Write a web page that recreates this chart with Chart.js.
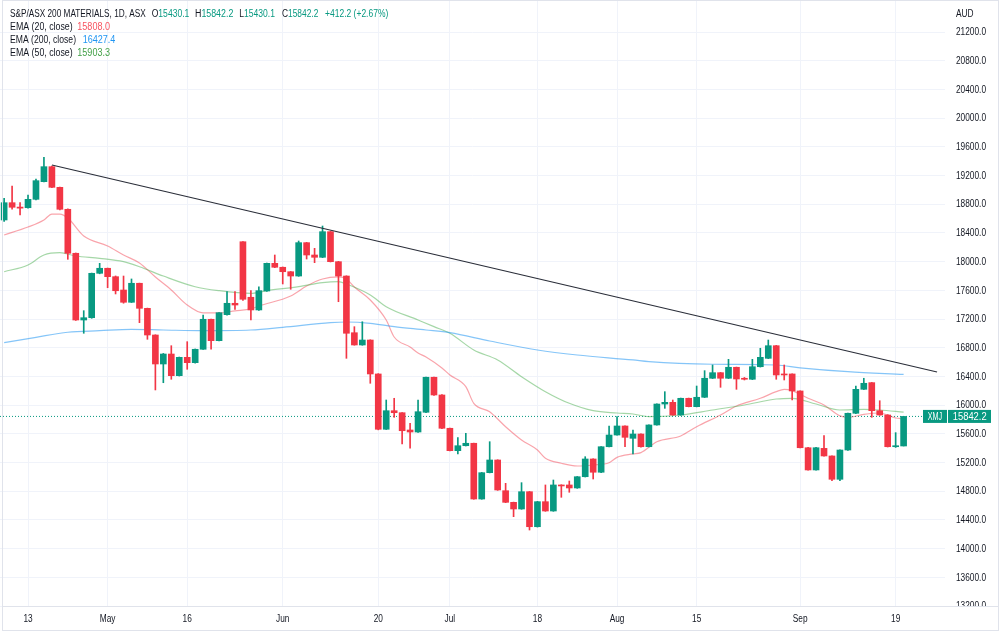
<!DOCTYPE html>
<html><head><meta charset="utf-8">
<script src="https://cdn.jsdelivr.net/npm/chart.js@4/dist/chart.umd.min.js"></script>
<style>html,body{margin:0;padding:0;background:#fff;}canvas{display:block;}</style>
</head><body>
<canvas id="c" width="1000" height="634"></canvas>
<script>
// trading-day index (0 = 13 Apr 2022, ASX trading days)
const dayIndex = [];
for (let d = -3; d <= 110; d++) dayIndex.push(d);

const opens = [18580,18821,18760,18751,18868,19114,19323,19035,18729,18116,17186,17218,17837,17907,17790,17604,17433,17698,17349,16977,16573,16712,16410,16666,16591,16778,17196,16898,17260,17419,18277,17503,17326,17590,17976,17921,17859,17799,18264,18092,18060,18417,17999,17799,17009,16838,16907,16434,15663,15922,15894,15653,15625,15900,16388,16141,15677,15365,15434,15468,14691,15058,15235,14807,14645,14552,14793,14305,14654,14524,14887,14887,14845,15002,15249,15064,15420,15583,15709,15537,15597,15420,15723,16015,16039,15862,16095,15978,16109,16374,16452,16374,16527,16374,16360,16535,16652,16828,16434,16434,16197,15406,15096,15397,15291,14966,15374,15886,16220,16313,15922,15862,15420,15430.1];
const highs = [18882,19054,18821,18928,19151,19454,19330,19040,18735,18120,17316,17840,17976,17910,17800,17799,17758,17700,17352,16980,16720,16828,16670,16884,16782,17256,17200,17290,17581,17581,18280,17595,17650,17980,18092,17925,17862,18287,18268,18185,18496,18420,18003,17802,17093,17162,16910,16438,16071,16095,15897,15747,16071,16390,16392,16145,15680,15546,15607,15470,15062,15490,15238,14910,14648,14919,14796,14658,14887,14956,14890,14942,15005,15281,15252,15423,15709,15839,15712,15653,15600,15726,16018,16187,16071,16098,16098,16266,16480,16559,16455,16638,16530,16385,16638,16792,16907,16832,16559,16437,16200,15410,15410,15574,15294,15378,15890,16266,16374,16316,16061,15866,15616,15842.2];
const lows = [18560,18729,18650,18745,18860,19110,19030,18720,18032,17180,17001,17210,17830,17636,17549,17420,17430,17149,16917,16211,16312,16360,16405,16499,16585,16775,16778,16895,17255,17335,17460,17186,17320,17585,17915,17688,17614,17795,18036,17985,18055,17995,17441,16652,16835,16834,16304,15655,15660,15830,15458,15398,15620,15895,16135,15670,15360,15319,15430,14688,14688,15055,14812,14640,14445,14548,14259,14300,14520,14520,14715,14785,14840,14998,14970,15060,15416,15580,15420,15319,15415,15416,15720,15955,15858,15858,15975,15975,16105,16370,16248,16370,16220,16350,16355,16530,16648,16360,16350,16071,15402,15092,15092,15288,14947,14947,15370,15882,16216,15830,15858,15416,15410,15430.1];
const closes = [18821,18757,18745,18868,19128,19323,19035,18729,18116,17186,17218,17837,17907,17790,17594,17433,17698,17349,16977,16573,16712,16410,16666,16591,16778,17196,16898,17288,17419,17395,17475,17326,17595,17976,17921,17859,17799,18264,18092,18060,18417,17999,17799,17001,16838,16907,16434,15663,15922,15894,15643,15625,15908,16388,16141,15677,15365,15434,15468,14691,15058,15235,14817,14645,14552,14793,14305,14654,14524,14887,14873,14845,15002,15249,15064,15420,15583,15709,15551,15597,15420,15723,16015,16039,15862,16095,15978,16109,16374,16452,16374,16527,16364,16360,16535,16666,16828,16420,16420,16197,15406,15096,15406,15291,14966,15374,15886,16220,16304,15922,15862,15420,15430,15842.2];

const tickDays = [0,10,20,32,44,53,64,74,84,97,109];
const tickLabels = ["13","May","16","Jun","20","Jul","18","Aug","15","Sep","19"];
const priceTicks = [13200,13600,14000,14400,14800,15200,15600,16000,16400,16800,17200,17600,18000,18400,18800,19200,19600,20000,20400,20800,21200];

const ema20Days = [-3,0,2,3,4,5,7,10,12,14,16,18,20,22,24,26,28,29,33,35,37,39,40,41,43,45,46,48,49,50,52,53,55,56,58,60,62,64,65,67,69,71,73,74,76,77,79,82,84,87,89,92,94,95,96,98,100,102,103,105,107,109,110];
const ema20Vals = [18371,18482,18580,18663,18663,18608,18357,18218,18092,17981,17785,17604,17395,17284,17284,17312,17340,17381,17521,17660,17758,17786,17758,17646,17465,17186,16949,16810,16726,16670,16517,16420,16257,16025,15908,15699,15514,15374,15259,15189,15151,15165,15197,15272,15319,15337,15490,15570,15699,15862,15987,16095,16187,16220,16201,16095,16001,15850,15830,15870,15890,15820,15808];
const ema50Days = [-3,0,2,4,6,9,12,14,17,21,24,28,30,34,37,39,40,43,45,49,51,53,56,59,62,65,68,71,74,76,78,82,86,90,94,96,99,102,105,107,110];
const ema50Vals = [17859,17953,18092,18124,18078,18046,17999,17929,17799,17650,17595,17558,17595,17650,17706,17720,17688,17535,17372,17186,17093,17001,16768,16629,16396,16187,16025,15922,15890,15876,15839,15862,15932,16001,16085,16095,16015,15932,15941,15932,15903.3];
const ema200Days = [-3,1,5,9,13,17,22,28,32,38,40,43,46,50,53,58,64,69,76,78,86,94,97,103,110];
const ema200Vals = [16870,16945,17015,17037,17056,17047,17037,17047,17084,17149,17158,17140,17093,17047,17009,16893,16768,16698,16629,16605,16569,16559,16520,16466,16427.4];

const trendDays = [3,114.2];
const trendVals = [19346,16461];
const lastPrice = 15842.2;
const xMin = -3.52, xMax = 115.2;
const yMin = 13200, yMax = 21646;

const UP = '#089981', DOWN = '#F23645', TXT = '#131722';
const candleColor = closes.map((c,k)=> c >= opens[k] ? UP : DOWN);
const FONT = '"Liberation Sans", Arial, sans-serif';

const pts = (days, vals) => days.map((d,k)=>({x:d, y:vals[k]}));

// draw text squeezed/stretched horizontally to a given width
function fitText(ctx, text, x, y, w, align){
  const m = ctx.measureText(text).width;
  const s = w / m;
  ctx.save();
  ctx.translate(x, y); ctx.scale(s, 1);
  ctx.textAlign = align || 'left';
  ctx.fillText(text, 0, 0);
  ctx.restore();
}
function sqText(ctx, text, x, y, sx, align){
  ctx.save(); ctx.translate(x, y); ctx.scale(sx, 1);
  ctx.textAlign = align || 'left'; ctx.fillText(text, 0, 0); ctx.restore();
}

const overlay = {
  id:'overlay',
  beforeDraw(chart){
    const ctx = chart.ctx;
    ctx.save(); ctx.fillStyle='#fff'; ctx.fillRect(0,0,chart.width,chart.height); ctx.restore();
  },
  afterDraw(chart){
    const ctx = chart.ctx, ys = chart.scales.y, xs = chart.scales.x, ca = chart.chartArea;
    ctx.save();
    ctx.textBaseline='middle';
    // price axis labels
    ctx.font='10px '+FONT; ctx.fillStyle=TXT;
    priceTicks.forEach(v=>{ sqText(ctx, v.toFixed(1), 956, ys.getPixelForValue(v)+0.5, 0.83, 'left'); });
    // time axis labels
    tickDays.forEach((d,k)=>{ sqText(ctx, tickLabels[k], xs.getPixelForValue(d), 619, 0.83, 'center'); });
    // clip the partially hidden bottom price label
    ctx.fillStyle='#fff';
    ctx.fillRect(ca.right, ca.bottom+1, chart.width-ca.right, chart.height-ca.bottom-7);
    // separators / frame
    ctx.strokeStyle='#e0e3eb'; ctx.lineWidth=1;
    ctx.beginPath(); ctx.moveTo(2, ca.bottom+0.5); ctx.lineTo(998, ca.bottom+0.5); ctx.stroke();
    ctx.strokeRect(2.5,0.5,996,630);
    // legend
    ctx.font='10px '+FONT;
    const o = opens[opens.length-1], h = highs[highs.length-1], l = lows[lows.length-1], c = closes[closes.length-1];
    const prev = closes[closes.length-2];
    ctx.fillStyle=TXT; fitText(ctx,'S&P/ASX 200 MATERIALS, 1D, ASX',10,14.5,135.7);
    const segs = [['O',o,151.7,189.3],['H',h,195,233.3],['L',l,239.3,275],['C',c,282,318.3]];
    segs.forEach(([p,v,x0,x1])=>{
      const full = p+v.toFixed(1);
      const m = ctx.measureText(full).width, s=(x1-x0)/m;
      ctx.save(); ctx.translate(x0,14.5); ctx.scale(s,1);
      ctx.fillStyle=TXT; ctx.fillText(p,0,0);
      ctx.fillStyle=UP; ctx.fillText(v.toFixed(1), ctx.measureText(p).width, 0);
      ctx.restore();
    });
    ctx.fillStyle=UP;
    fitText(ctx,'+'+(c-prev).toFixed(1)+' (+'+((c-prev)/prev*100).toFixed(2)+'%)',325,14.5,63.3);
    const leg = [['EMA (20, close)', ema20Vals[ema20Vals.length-1].toFixed(1), '#F7525F', 27, 62.7, 77.3],
                 ['EMA (200, close)', ema200Vals[ema200Vals.length-1].toFixed(1), '#2196F3', 40, 66, 82.7],
                 ['EMA (50, close)', ema50Vals[ema50Vals.length-1].toFixed(1), '#43A047', 53, 62.7, 77.3]];
    leg.forEach(([a,b,col,y,w1,x2])=>{
      ctx.fillStyle=TXT; fitText(ctx,a,10,y,w1);
      ctx.fillStyle=col; fitText(ctx,b,x2,y,32.7);
    });
    // currency
    ctx.fillStyle=TXT; sqText(ctx,'AUD',956,14,0.83,'left');
    // last price labels
    const py = ys.getPixelForValue(lastPrice);
    ctx.fillStyle=UP;
    ctx.fillRect(923,py-6.5,24,13);
    ctx.fillRect(948,py-6.5,43,13);
    ctx.fillStyle='#fff';
    ctx.font='10px '+FONT;
    fitText(ctx,'XMJ',935,py+0.5,14.4,'center');
    fitText(ctx,lastPrice.toFixed(1),969.7,py+0.5,34,'center');
    ctx.restore();
  }
};

new Chart(document.getElementById('c'), {
  type:'bar',
  data:{datasets:[
    {type:'line', data:[{x:xMin,y:lastPrice},{x:xMax,y:lastPrice}], borderColor:UP, borderWidth:1, borderDash:[1,2], pointRadius:0, order:5},
    {type:'line', data:pts(ema200Days,ema200Vals), borderColor:'rgba(33,150,243,0.55)', borderWidth:1.2, pointRadius:0, cubicInterpolationMode:'monotone', order:4},
    {type:'line', data:pts(ema50Days,ema50Vals), borderColor:'rgba(76,175,80,0.5)', borderWidth:1.2, pointRadius:0, cubicInterpolationMode:'monotone', order:4},
    {type:'line', data:pts(ema20Days,ema20Vals), borderColor:'rgba(242,54,69,0.45)', borderWidth:1.2, pointRadius:0, cubicInterpolationMode:'monotone', order:4},
    {data:dayIndex.map((d,k)=>({x:d,y:[lows[k],highs[k]]})), backgroundColor:candleColor, barThickness:1, grouped:false, order:2},
    {data:dayIndex.map((d,k)=>({x:d,y:[opens[k],closes[k]]})), backgroundColor:candleColor, barThickness:6, minBarLength:1, grouped:false, order:1},
    {type:'line', data:pts(trendDays,trendVals), borderColor:'#2a2e39', borderWidth:1.2, pointRadius:0, order:0}
  ]},
  options:{
    responsive:false, animation:false, devicePixelRatio:1,
    layout:{padding:0},
    plugins:{legend:{display:false}, tooltip:{enabled:false}},
    scales:{
      x:{type:'linear', min:xMin, max:xMax, offset:false, position:'bottom',
        grid:{color:'#f0f3fa', drawTicks:false, offset:false}, border:{display:false},
        ticks:{display:false, autoSkip:false},
        afterBuildTicks:(s)=>{s.ticks = tickDays.map(v=>({value:v}));},
        afterFit:(s)=>{s.height = 28;}
      },
      y:{type:'linear', position:'right', min:yMin, max:yMax,
        grid:{color:'#f0f3fa', drawTicks:false}, border:{display:false},
        ticks:{display:false},
        afterBuildTicks:(s)=>{s.ticks = priceTicks.map(v=>({value:v}));},
        afterFit:(s)=>{s.width = 55;}
      }
    }
  },
  plugins:[overlay]
});
</script>
</body></html>
